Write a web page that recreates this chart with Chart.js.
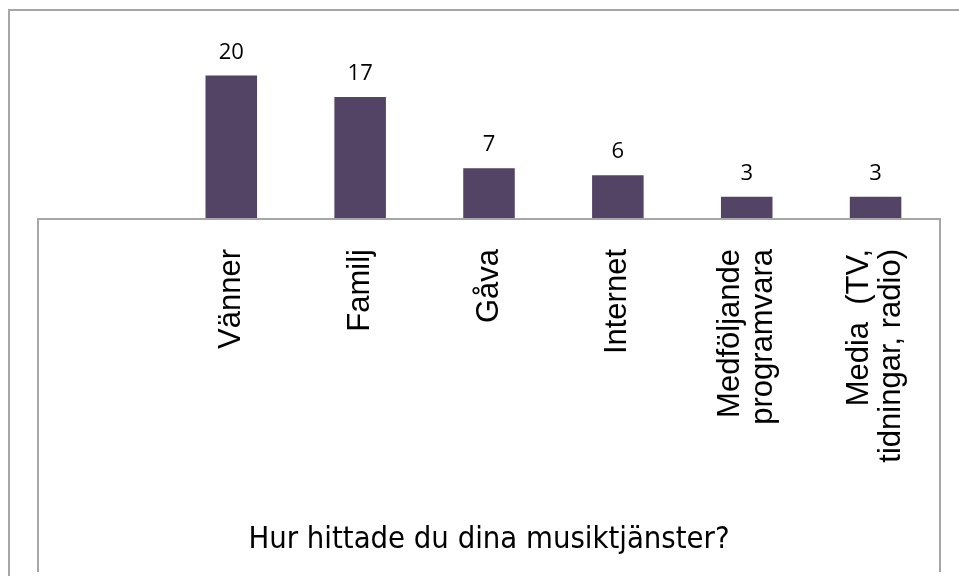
<!DOCTYPE html>
<html>
<head>
<meta charset="utf-8">
<script src="https://cdn.jsdelivr.net/npm/chart.js@4.4.1/dist/chart.umd.min.js"></script>
<style>
  html, body { margin: 0; padding: 0; background: #fff; }
  #wrap { width: 959px; height: 576px; }
</style>
</head>
<body>
<div id="wrap"><canvas id="chart"></canvas></div>
<script>
// data (first slot is empty in the original)
const categories = ['', 'Vänner', 'Familj', 'Gåva', 'Internet', ['Medföljande', 'programvara'], ['Media  (TV,', 'tidningar, radio)']];
const answers = [null, 20, 17, 7, 6, 3, 3];
const axisTitle = 'Hur hittade du dina musiktjänster?';
const yMax = 25;

const lineColor = '#a6a6a6';
const barColor = '#534365';
const labelFont = '31px "Liberation Sans", Arial, sans-serif';
const valueFont = '22px "Open Sans", sans-serif';

// frame, axis box, rotated category labels and value labels
const decor = {
  id: 'decor',
  beforeDraw(chart) {
    const ctx = chart.ctx;
    ctx.save();
    ctx.strokeStyle = lineColor;
    ctx.lineWidth = 2;
    ctx.beginPath();
    ctx.moveTo(9, 576);
    ctx.lineTo(9, 10);
    ctx.lineTo(959, 10);
    ctx.stroke();
    ctx.restore();
  },
  afterDraw(chart) {
    const ctx = chart.ctx;
    const x = chart.scales.x;
    ctx.save();

    // box under the bars
    ctx.strokeStyle = lineColor;
    ctx.lineWidth = 2;
    ctx.beginPath();
    ctx.moveTo(x.left, 572);
    ctx.lineTo(x.left, x.top + 1);
    ctx.lineTo(x.right, x.top + 1);
    ctx.lineTo(x.right, 572);
    ctx.stroke();

    // category labels, rotated, lines centred on the tick
    ctx.fillStyle = '#000';
    ctx.font = labelFont;
    ctx.textAlign = 'right';
    ctx.textBaseline = 'middle';
    const gap = 32.7;
    categories.forEach((lab, i) => {
      const lines = Array.isArray(lab) ? lab : [lab];
      const px = x.getPixelForTick(i);
      lines.forEach((ln, j) => {
        ctx.save();
        ctx.translate(px + (j - (lines.length - 1) / 2) * gap, x.top + 31);
        ctx.rotate(-Math.PI / 2);
        ctx.fillText(ln, 0, 0);
        ctx.restore();
      });
    });

    // values above bars
    ctx.font = valueFont;
    ctx.textAlign = 'center';
    ctx.textBaseline = 'alphabetic';
    chart.getDatasetMeta(0).data.forEach((bar, i) => {
      if (answers[i] == null) return;
      ctx.fillText(String(answers[i]), bar.x, bar.y - 17);
    });
    ctx.restore();
  }
};

new Chart(document.getElementById('chart'), {
  type: 'bar',
  data: {
    labels: categories,
    datasets: [{
      data: answers,
      backgroundColor: barColor,
      borderWidth: 0,
      barPercentage: 0.4,
      categoryPercentage: 1
    }]
  },
  options: {
    responsive: true,
    maintainAspectRatio: false,
    animation: false,
    devicePixelRatio: 1,
    layout: { padding: { left: 38, right: 19, top: 40, bottom: 0 } },
    plugins: {
      legend: { display: false },
      tooltip: { enabled: false }
    },
    scales: {
      x: {
        grid: { display: false },
        border: { display: false },
        ticks: { display: false },
        afterFit(scale) { scale.height = 358; },
        title: {
          display: true,
          text: axisTitle,
          color: '#000',
          font: { family: '"DejaVu Sans Condensed", "DejaVu Sans"', size: 30.7 },
          padding: { top: 0, bottom: 18 }
        }
      },
      y: {
        display: false,
        min: 0,
        max: yMax
      }
    }
  },
  plugins: [decor]
});
</script>
</body>
</html>
